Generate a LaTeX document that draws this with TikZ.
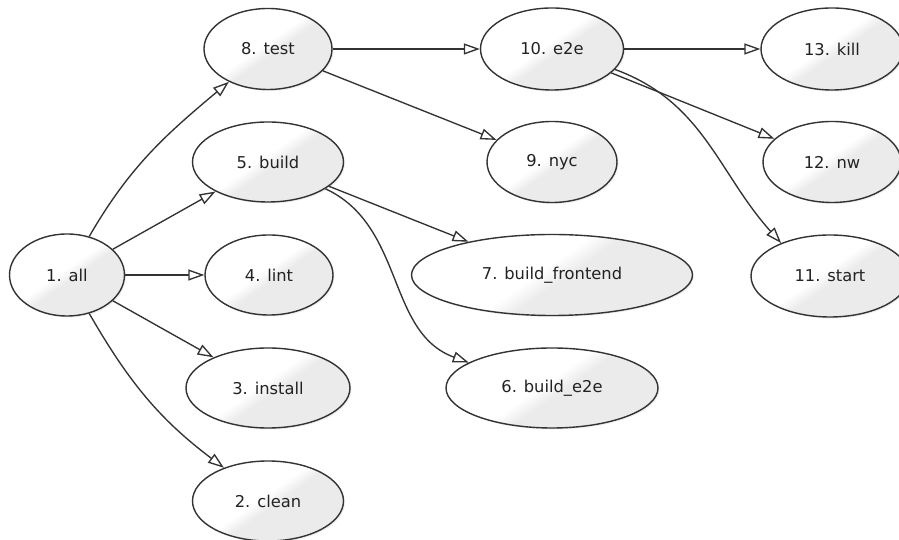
\documentclass[tikz,border=0pt]{standalone}
\usepackage{fontspec}
\setmainfont{DejaVu Sans}
\usetikzlibrary{arrows.meta,shapes.geometric,shadows}
\definecolor{edgec}{HTML}{333333}
\definecolor{fillg}{HTML}{EBEBEB}
\definecolor{textc}{HTML}{222222}
\pgfdeclareverticalshading{nodeshade}{100bp}{color(0bp)=(fillg); color(47bp)=(fillg); color(53bp)=(white); color(100bp)=(white)}
\begin{document}
\begin{tikzpicture}[x=1pt,y=1pt,
  task/.style={ellipse, draw=edgec, line width=1.4pt, shading=nodeshade, shading angle=35,
    font=\fontsize{16.3}{19}\selectfont, text=textc, inner sep=0pt,
    drop shadow={opacity=0.12, shadow xshift=1.5pt, shadow yshift=-1.5pt}},
  dep/.style={draw=edgec, line width=1.35pt, -{Triangle[open, length=16pt, width=11pt, fill=white]}}
]
\useasboundingbox[fill=white] (0,0) rectangle (899,540);

\node[task, minimum width=115pt, minimum height=82pt] (all) at (67,265) {1. all};
\node[task, minimum width=128pt, minimum height=81pt] (test) at (268,491) {8. test};
\node[task, minimum width=151pt, minimum height=80pt] (build) at (268,378) {5. build};
\node[task, minimum width=128pt, minimum height=80pt] (lint) at (269,265) {4. lint};
\node[task, minimum width=164pt, minimum height=80pt] (install) at (268,152) {3. install};
\node[task, minimum width=151pt, minimum height=80pt] (clean) at (268,39) {2. clean};
\node[task, minimum width=143pt, minimum height=82pt] (e2e) at (552,491) {10. e2e};
\node[task, minimum width=130pt, minimum height=81pt] (nyc) at (552,378) {9. nyc};
\node[task, minimum width=281pt, minimum height=81pt] (bf) at (552,265) {7. build\_frontend};
\node[task, minimum width=212pt, minimum height=80pt] (be) at (552,152) {6. build\_e2e};
\node[task, minimum width=142pt, minimum height=82pt] (kill) at (832,491) {13. kill};
\node[task, minimum width=138pt, minimum height=81pt] (nw) at (832,378) {12. nw};
\node[task, minimum width=158pt, minimum height=82pt] (start) at (830,264) {11. start};

\draw[dep] (all) to[out=60, in=220] (test);
\draw[dep] (all) -- (build);
\draw[dep] (all) -- (lint);
\draw[dep] (all) -- (install);
\draw[dep] (all) to[out=-60, in=143] (clean);
\draw[dep] (test) -- (e2e);
\draw[dep] (test) -- (nyc);
\draw[dep] (build) -- (bf);
\draw[dep] (build.-25) to[out=-25, in=160] (be.163);
\draw[dep] (e2e) -- (kill);
\draw[dep] (e2e) -- (nw);
\draw[dep] (e2e.-18) to[out=-20, in=132] (start.146);
\end{tikzpicture}
\end{document}
